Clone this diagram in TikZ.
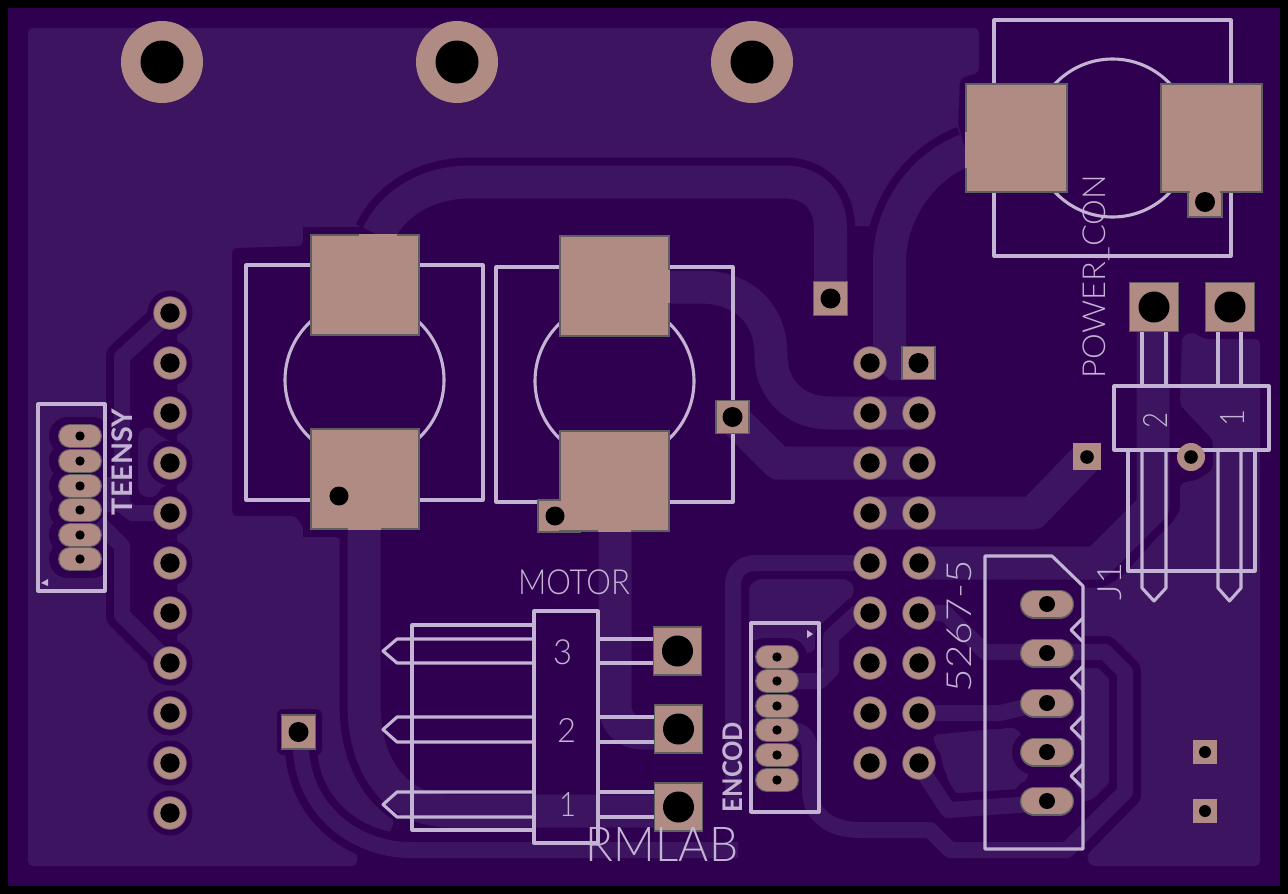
\documentclass[tikz,border=0pt]{standalone}
\usepackage{graphicx}
\usepackage{fontspec}
\setmainfont{Lato}
\newfontfamily\silkthin{Lato Light}
\newfontfamily\silkbold{Lato Bold}
\definecolor{board}{HTML}{300050}
\definecolor{pourc}{HTML}{3C1460}
\definecolor{padc}{HTML}{AF8B83}
\definecolor{padedge}{HTML}{5F5F5F}
\definecolor{silkc}{HTML}{C4B4D4}
\newcommand{\silklabel}[2]{\resizebox*{#1pt}{#2}}
\tikzset{
  pourfill/.style={fill=pourc,rounded corners=5pt},
  darkfill/.style={fill=board},
  trace/.style={draw=pourc,line width=#1,line join=round},
  trace/.default=16pt,
  clr/.style={draw=board,line width=#1,line join=round},
  clr/.default=32pt,
  silk/.style={draw=silkc,line width=3.1pt,line join=round},
  silktxt/.style={text=silkc,inner sep=0pt,outer sep=0pt},
  padsq/.style={fill=padc,draw=padedge,line width=1.4pt},
  ringp/.style={fill=padc,draw=padedge!70!padc,line width=0.7pt},
  hole/.style={fill=black},
  pill/.style={draw=padedge,line width=#1,line cap=round},
  pillin/.style={draw=padc,line width=#1,line cap=round}
}
\begin{document}
\begin{tikzpicture}[x=1pt,y=-1pt]
\useasboundingbox (0,0) rectangle (1288,894);
\fill[black] (0,0) rectangle (1288,894);
\fill[board] (8,8) rectangle (1280,886);

% ---------- copper pours
\fill[pourfill] (28,28) -- (979,28) -- (979,73) -- (960,78) -- (958,125) -- (966,150)
  .. controls (925,165) and (889.5,210) .. (889.5,226) -- (830.5,226)
  .. controls (830.5,200) and (812,182) .. (785,182) -- (470,182)
  .. controls (425,182) and (392,205) .. (378,227) -- (303,227) -- (303,246) -- (232,248)
  -- (232,516) -- (296,516) -- (307,535) -- (337,537) -- (352,547) -- (364,560) -- (364,745)
  -- (386,785) -- (394,824) -- (380,850) -- (357,850) -- (357,866) -- (28,866) -- cycle;
\fill[pourfill] (1182,336) -- (1193,332) -- (1204,339) -- (1260,339) -- (1260,866) -- (1090,866)
  -- (1086,856) -- (1141,800) -- (1141,668) -- (1112,637) -- (1083,637) -- (1083,587)
  -- (1113,583) -- (1128,570) -- (1170,523) -- (1180,512) -- (1180,483) -- (1197,480)
  -- (1213,470) -- (1213,440) -- (1180,405) -- cycle;
\fill[pourfill] (1076,668) -- (1103,668) -- (1110,677) -- (1110,782) -- (1092,800) -- (1076,803) -- cycle;
\fill[pourfill] (932,735) -- (1012,727) -- (1022,733) -- (1020,757) -- (1030,773) -- (1017,795)
  -- (960,795) -- (952,790) -- cycle;
\fill[pourfill] (748,588) -- (757,579) -- (847,579) -- (855,587) -- (852,597) -- (835,620)
  -- (820,640) -- (815,650) -- (808,654) -- (798,650) -- (790,640) -- (748,640) -- cycle;

% ---------- clearances
\fill[darkfill] (125,360) -- (165,325) -- (177,313) -- (177,663) -- (165,650) -- (125,610) -- cycle;
\fill[pourfill] (138,432) -- (150,426) -- (160,436) -- (178,445) -- (178,480) -- (160,488)
  -- (157,497) -- (143,497) -- (138,490) -- cycle;
\foreach \yy in {313,363,...,813} \fill[darkfill] (170,\yy) circle (22.5pt);
\foreach \yy in {363,413,...,763} {\fill[darkfill] (870,\yy) circle (23pt); \fill[darkfill] (919,\yy) circle (23pt);}
\foreach \yy in {436,461,486,510,535,559} \draw[clr=38pt,line cap=round] (68,\yy) -- (92,\yy);
\foreach \yy in {657,681,706,730,755,780} \draw[clr=38pt,line cap=round] (765,\yy) -- (788,\yy);
\foreach \yy in {604,653,703,752,801} \draw[clr=45pt,line cap=round] (1034.5,\yy) -- (1059.5,\yy);
\fill[darkfill,rounded corners=6pt] (277,709) rectangle (322,755);
\fill[darkfill] (303,227) rectangle (427,343);
\fill[darkfill] (303,421) rectangle (427,537);
\fill[darkfill] (1191,457) circle (20pt);

\draw[clr=49pt] (378,235) .. controls (392,205) and (425,182) .. (470,182) -- (785,182)
  .. controls (812,182) and (830.5,200) .. (830.5,228) -- (830.5,298);
\draw[clr=49pt] (966,150) .. controls (925,165) and (889.5,210) .. (889.5,262) -- (889.5,350);
\draw[clr=49pt] (364,530) -- (364,705) .. controls (364,765) and (395,811) .. (450,811) -- (677,811);
\draw[clr] (301,750) .. controls (305,815) and (360,850) .. (410,850) -- (738,850);
\draw[clr] (790,730) .. controls (806,730) and (810,740) .. (810,755) -- (810,790)
  .. controls (810,815) and (830,830) .. (860,830) -- (930,830) -- (950,850) -- (1067,850)
  -- (1125,792) -- (1125,672) -- (1105,652) -- (1047,652);
\draw[clr] (919,613) -- (945,613) -- (985,652) -- (1047,652);
\draw[clr] (919,713) -- (1000,713) -- (1047,702);
\draw[clr] (925,775) -- (948,810) -- (1047,803);
\draw[clr] (790,681) -- (820,681) -- (831,670) -- (831,637) -- (857,613) -- (870,613);
\draw[clr] (870,563) -- (755,563) .. controls (742,563) and (733,572) .. (733,585) -- (733,808);
\draw[clr=49pt] (1153,307) -- (1153,507) -- (1097,563) -- (919,563);
\draw[clr=32pt] (170,313) -- (122,357) -- (122,505) -- (132,513) -- (170,513);
\draw[clr=32pt] (98,522) -- (122,546) -- (122,615) -- (163,656) -- (170,663);

% ---------- traces
\draw[trace=33pt] (378,235) .. controls (392,205) and (425,182) .. (470,182) -- (785,182)
  .. controls (812,182) and (830.5,200) .. (830.5,228) -- (830.5,298);
\draw[trace=33pt] (966,150) .. controls (925,165) and (889.5,210) .. (889.5,262) -- (889.5,350);
\fill[pourc] (873,345) -- (906,345) -- (906,380) -- (890,380) -- (873,365) -- cycle;
\draw[trace=33pt] (364,530) -- (364,705) .. controls (364,765) and (395,811) .. (450,811) -- (677,811);
\draw[trace=33pt] (615,531) -- (615,705) .. controls (615,722) and (626,733) .. (643,733) -- (677,733);
\draw[trace=33pt] (669,287) -- (700,287) .. controls (745,287) and (771,315) .. (771,355)
  .. controls (771,390) and (795,413) .. (830,413) -- (919,413);
\draw[trace=33pt] (732,417) -- (778,463) -- (919,463);
\draw[trace=33pt] (870,513) -- (1033,513) -- (1087,457);
\draw[trace=33pt] (1153,307) -- (1153,507) -- (1097,563) -- (919,563);
\draw[trace] (870,563) -- (755,563) .. controls (742,563) and (733,572) .. (733,585) -- (733,808);
\draw[trace] (301,750) .. controls (305,815) and (360,850) .. (410,850) -- (738,850);
\draw[trace] (790,730) .. controls (806,730) and (810,740) .. (810,755) -- (810,790)
  .. controls (810,815) and (830,830) .. (860,830) -- (930,830) -- (950,850) -- (1067,850)
  -- (1125,792) -- (1125,672) -- (1105,652) -- (1047,652);
\draw[trace] (919,613) -- (945,613) -- (985,652) -- (1047,652);
\draw[trace] (919,713) -- (1000,713) -- (1047,702);
\draw[trace] (925,775) -- (948,810) -- (1047,803);
\draw[trace] (790,681) -- (820,681) -- (831,670) -- (831,637) -- (857,613) -- (870,613);
\draw[trace] (170,313) -- (122,357) -- (122,505) -- (132,513) -- (170,513);
\draw[trace] (98,522) -- (122,546) -- (122,615) -- (163,656) -- (170,663);
\fill[pourc] (103,477) rectangle (116,512);

% ---------- silkscreen
\draw[silk] (246,265) rectangle (483,500);
\draw[silk] (496,267) rectangle (733,502);
\draw[silk] (364.5,380) circle (79.5pt);
\draw[silk] (614.5,381) circle (79.5pt);
\draw[silk] (994,20) rectangle (1231,256);
\draw[silk] (1112.5,138) circle (79pt);
\draw[silk] (38,404) rectangle (105,591);
\fill[silkc] (41,583) -- (48,579) -- (48,586) -- cycle;
\draw[silk] (751,623) rectangle (819,812);
\fill[silkc] (813,634) -- (807,630) -- (807,638) -- cycle;
\draw[silk] (985,556) -- (1052,556) -- (1083,586) -- (1083,849) -- (985,849) -- cycle;
\foreach \yy in {630,678,728,776} \draw[silk] (1083,\yy-12) -- (1071,\yy) -- (1083,\yy+12);
% motor connector
\draw[silk] (534,611) rectangle (598,843);
\draw[silk] (534,625) -- (412,625) -- (412,830) -- (534,830);
\foreach \ya/\yb in {639/663,717/742,792/817} {
  \draw[silk] (534,\ya) -- (397,\ya) -- (383,{(\ya+\yb)/2}) -- (397,\yb) -- (534,\yb);
  \draw[silk] (598,\ya) -- (654,\ya) (598,\yb) -- (654,\yb);
}
% J1 connector
\draw[silk] (1114,386) rectangle (1269,450);
\draw[silk] (1128,450) -- (1128,571) -- (1255,571) -- (1255,450);
\foreach \xa/\xb in {1142/1166,1218/1241} {
  \draw[silk] (\xa,332) -- (\xa,386) (\xb,332) -- (\xb,386);
  \draw[silk] (\xa,450) -- (\xa,588) -- ({(\xa+\xb)/2},601) -- (\xb,588) -- (\xb,450);
}

% ---------- pads
\foreach \xx in {162,457,752} {\fill[padc] (\xx,62) circle (41pt); \fill[hole] (\xx,62) circle (21.5pt);}
\foreach \yy in {313,363,...,813} {\filldraw[ringp] (170,\yy) circle (16.3pt); \fill[hole] (170,\yy) circle (9.7pt);}
\foreach \yy in {363,413,...,763} {\filldraw[ringp] (870,\yy) circle (16.3pt); \fill[hole] (870,\yy) circle (9.7pt);}
\foreach \yy in {413,463,...,763} {\filldraw[ringp] (919,\yy) circle (16.3pt); \fill[hole] (919,\yy) circle (9.7pt);}
\foreach \yy in {436,461,486,510,535,559} {
  \draw[pill=24pt] (70,\yy) -- (90,\yy); \draw[pillin=21.5pt] (70,\yy) -- (90,\yy); \fill[hole] (80,\yy) circle (4.7pt);}
\foreach \yy in {657,681,706,730,755,780} {
  \draw[pill=24pt] (767,\yy) -- (787,\yy); \draw[pillin=21.5pt] (767,\yy) -- (787,\yy); \fill[hole] (777,\yy) circle (4.7pt);}
\foreach \yy in {604,653,703,752,801} {
  \draw[pill=29pt] (1034.5,\yy) -- (1059.5,\yy); \draw[pillin=26.5pt] (1034.5,\yy) -- (1059.5,\yy); \fill[hole] (1047,\yy) circle (8pt);}
% big SMD pads
\filldraw[padsq] (311,235) rectangle (419,335);
\filldraw[padsq] (311,429) rectangle (419,529);
\filldraw[padsq] (538,500) rectangle (580,532);
\filldraw[padsq] (560,236) rectangle (669,336);
\filldraw[padsq] (560,431) rectangle (669,531);
\filldraw[padsq] (966,84) rectangle (1067,192);
\filldraw[padsq] (1188,183) rectangle (1222,217);
\filldraw[padsq] (1161,84) rectangle (1262,192);
\fill[padc] (1190,180) rectangle (1220,194);
\fill[padc] (545,501) rectangle (579,530);
% where a trace meets a pad the outline breaks
\draw[padc,line width=1.6pt] (359,235) -- (397,235) (348,529) -- (381,529) (598,531) -- (631,531);
\draw[padc,line width=1.6pt] (669,270) -- (669,303) (966,132) -- (966,168);
\fill[hole] (339,496) circle (9.5pt);
\fill[hole] (555,516) circle (9.5pt);
\fill[hole] (1205,202) circle (10pt);
% through-hole square pads
\foreach \cx/\cy/\hw/\rr in {298.5/732/17/10,830.5/298.5/17/10,732.5/417/16.5/10,918.5/363/16.5/10,
    677.5/651/24/15.5,678.5/729/24/15.5,678.5/807/24/15.5,1154/307/24.5/15.5,1230/307/24.5/15.5} {
  \filldraw[padsq] (\cx-\hw,\cy-\hw) rectangle (\cx+\hw,\cy+\hw);
  \fill[hole] (\cx,\cy) circle (\rr pt);
}
\fill[padc] (1073,443) rectangle (1101,470); \fill[hole] (1087,457) circle (6.8pt);
\fill[padc] (1191,457) circle (14pt); \fill[hole] (1191,457) circle (6.8pt);
\fill[padc] (1193,740) rectangle (1217,764); \fill[hole] (1205,752) circle (6pt);
\fill[padc] (1193,799) rectangle (1217,823); \fill[hole] (1205,811) circle (6pt);

% ---------- silkscreen text
\node[silktxt] (tmotor) at (574,582.5) {\silklabel{112}{25pt}{\silkthin MOTOR}};
\node[silktxt] (trmlab) at (662,844) {\silklabel{152}{34pt}{\silkthin RMLAB}};
\node[silktxt,rotate=90] (tpower) at (1096.5,276.5) {\silklabel{203}{27pt}{\silkthin POWER\_CON}};
\node[silktxt,rotate=90] (tfiveb) at (959.5,626) {\silklabel{132}{25pt}{\silkthin 5267-5}};
\node[silktxt,rotate=90] (tjone) at (1110,581) {\silklabel{38}{24pt}{\silkthin J1}};
\node[silktxt,rotate=90] (tteensy) at (122.5,462) {\silklabel{106}{21pt}{\silkbold TEENSY}};
\node[silktxt,rotate=90] (tencod) at (733,767) {\silklabel{90}{20pt}{\silkbold ENCOD}};
\node[silktxt] (tmthree) at (562.5,652.5) {\silklabel{19}{25pt}{\silkthin 3}};
\node[silktxt] (tmtwo) at (566.5,730) {\silklabel{19}{24pt}{\silkthin 2}};
\node[silktxt] (tmone) at (567.5,804) {\silklabel{17}{24pt}{\silkthin 1}};
\node[silktxt,rotate=90] (tjtwo) at (1155,420) {\silklabel{16}{24pt}{\silkthin 2}};
\node[silktxt,rotate=90] (tjthree) at (1232,417.5) {\silklabel{17}{24pt}{\silkthin 1}};
\end{tikzpicture}
\end{document}
